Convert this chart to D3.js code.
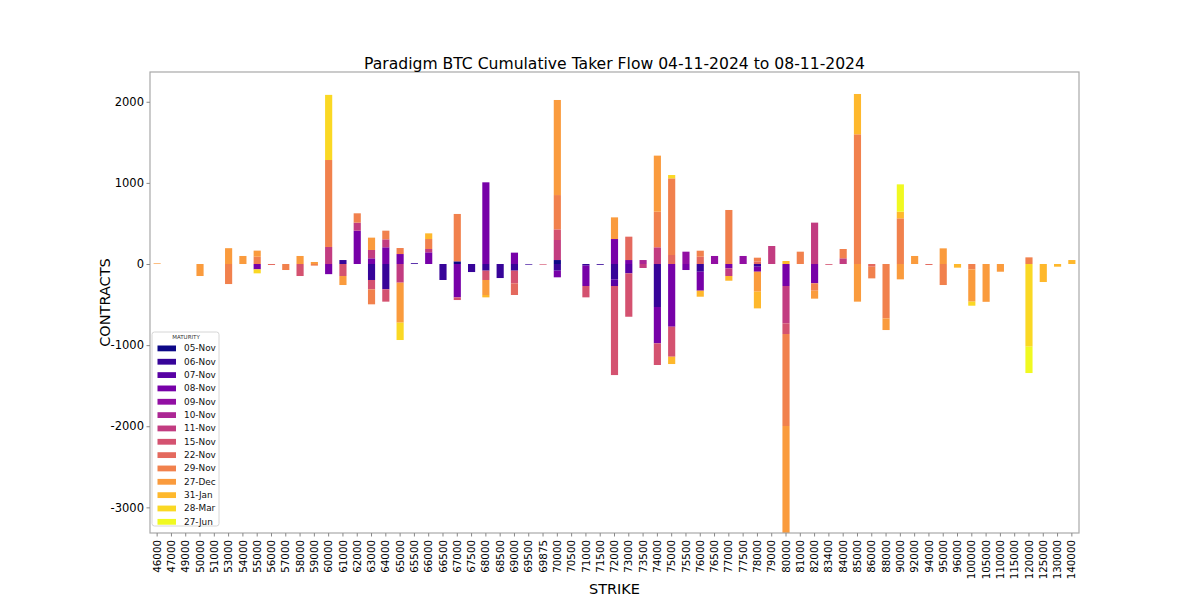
<!DOCTYPE html>
<html><head><meta charset="utf-8">
<script src="https://cdn.jsdelivr.net/npm/d3@7"></script>
<style>body{margin:0;background:#fff}svg{display:block}</style>
</head><body><svg id="c" width="1200" height="600"></svg>
<script>
const strikes = [46000,47000,49000,50000,51000,53000,54000,55000,56000,57000,58000,59000,60000,61000,62000,63000,64000,65000,65500,66000,66500,67000,67500,68000,68500,69000,69500,69875,70000,70500,71000,71500,72000,73000,73500,74000,75000,75500,76000,76500,77000,77500,78000,79000,80000,81000,82000,83400,84000,85000,86000,88000,90000,92000,94000,95000,96000,100000,105000,110000,115000,120000,125000,130000,140000];
const maturities = ["05-Nov","06-Nov","07-Nov","08-Nov","09-Nov","10-Nov","11-Nov","15-Nov","22-Nov","29-Nov","27-Dec","31-Jan","28-Mar","27-Jun"];
const yTicks = [-3000,-2000,-1000,0,1000,2000];

// [strike, contracts] per maturity
const flow05Nov = [[67000,33],[70000,49]];
const flow06Nov = [[61000,49],[63000,-197],[64000,-312],[65500,10],[66500,-197],[67500,-99],[68000,-82],[68500,-173],[69000,-82],[69500,-8],[70000,-82],[71000,-20],[71500,-10],[72000,-189],[74000,-530],[76000,-95],[78000,-33]];
const flow07Nov = [[72000,-82],[73000,-115]];
const flow08Nov = [[55000,-66],[60000,-125],[62000,411],[63000,70],[64000,206],[65000,123],[66000,144],[67000,-411],[68000,1007],[69000,140],[70000,-82],[71000,-251],[72000,308],[73000,49],[74000,-448],[75000,-773],[75500,-74],[76000,-234],[77000,-53],[78000,-62],[80000,-271],[82000,-238]];
const flow09Nov = [[75500,152],[76500,99],[77500,99]];
const flow10Nov = [[73500,49]];
const flow11Nov = [[60000,210],[62000,99],[63000,103],[64000,98],[65000,-230],[66000,41],[70000,247],[73500,-49],[74000,206],[77000,-95],[79000,222],[80000,-460],[82000,510],[84000,70]];
const flow15Nov = [[58000,-148],[61000,-148],[63000,-115],[64000,-152],[67000,-33],[68000,-115],[69000,-156],[69875,-8],[70000,131],[71000,-140],[72000,-1098],[73000,-535],[74000,-267],[75000,-370],[80000,-132],[83400,-10]];
const flow22Nov = [[56000,-12],[69000,-144],[73000,288],[75000,111],[76000,90],[78000,30],[86000,-33],[94000,-12]];
const flow29Nov = [[53000,-247],[55000,90],[57000,-74],[59000,-20],[60000,1072],[62000,115],[63000,-185],[64000,107],[65000,74],[66000,123],[67000,584],[70000,423],[74000,439],[75000,945],[76000,74],[77000,666],[78000,48],[80000,-1134],[81000,152],[82000,-91],[84000,115],[85000,1599],[86000,-144],[88000,-670],[90000,563],[95000,-259],[100000,-66],[120000,82]];
const flow27Dec = [[46000,8],[50000,-148],[53000,195],[54000,99],[55000,75],[58000,99],[59000,25],[61000,-111],[63000,152],[65000,-493],[68000,-185],[70000,1172],[72000,267],[74000,691],[78000,-246],[80000,-1323],[82000,-98],[85000,-464],[88000,-144],[90000,-189],[92000,99],[95000,193],[100000,-398],[105000,-466],[110000,-95]];
const flow31Jan = [[66000,70],[68000,-29],[75000,-90],[76000,-74],[77000,-58],[78000,-206],[80000,37],[85000,497],[90000,82],[96000,-45],[125000,-222],[130000,-33],[140000,49]];
const flow28Mar = [[55000,-49],[60000,803],[65000,-214],[75000,41],[100000,-50],[120000,-1019]];
const flow27Jun = [[90000,337],[120000,-325]];

const seriesFlows = [flow05Nov,flow06Nov,flow07Nov,flow08Nov,flow09Nov,flow10Nov,flow11Nov,flow15Nov,flow22Nov,flow29Nov,flow27Dec,flow31Jan,flow28Mar,flow27Jun];

const table = strikes.map(s => { const r = {strike: String(s)}; maturities.forEach(m => r[m] = 0); return r; });
seriesFlows.forEach((pairs, i) => pairs.forEach(([s, v]) => {
  const row = table.find(r => r.strike === String(s));
  if (row) row[maturities[i]] = v;
}));

const L = 150, R = 1079, T = 72, B = 533;
const svg = d3.select("#c");
const font = "DejaVu Sans, Verdana, sans-serif";

const x = d3.scaleBand().domain(strikes.map(String)).range([L, R]).paddingInner(0.5).paddingOuter(0.25);
const y = d3.scaleLinear().domain([-3316, 2367]).range([B, T]);
const color = d3.scaleOrdinal().domain(maturities).range(maturities.map((m, i) => d3.interpolatePlasma(i / (maturities.length - 1))));

const stacked = d3.stack().keys(maturities).offset(d3.stackOffsetDiverging)(table);

svg.append("clipPath").attr("id", "pc").append("rect").attr("x", L).attr("y", T).attr("width", R - L).attr("height", B - T);
const plot = svg.append("g").attr("clip-path", "url(#pc)");
plot.selectAll("g.layer").data(stacked).join("g").attr("class", "layer")
  .attr("fill", d => color(d.key))
  .selectAll("rect").data(d => d.filter(p => p[1] !== p[0])).join("rect")
  .attr("x", d => x(d.data.strike))
  .attr("width", x.bandwidth())
  .attr("y", d => y(Math.max(d[0], d[1])))
  .attr("height", d => Math.abs(y(d[0]) - y(d[1])));

// frame
svg.append("rect").attr("x", L).attr("y", T).attr("width", R - L).attr("height", B - T)
  .attr("fill", "none").attr("stroke", "#a8a8a8").attr("stroke-width", 1.2);

// axes
const xAxis = svg.append("g").attr("transform", `translate(0,${B})`)
  .call(d3.axisBottom(x).tickSize(3.5).tickPadding(3));
xAxis.select(".domain").remove();
xAxis.selectAll("line").attr("stroke", "#888");
xAxis.selectAll(".tick text").attr("font-family", font).attr("font-size", 10.3).attr("fill", "#000")
  .attr("transform", "rotate(-90)").attr("text-anchor", "end").attr("dy", "0.35em")
  .attr("x", -7).attr("y", 0);

const yAxis = svg.append("g").attr("transform", `translate(${L},0)`)
  .call(d3.axisLeft(y).tickValues(yTicks).tickSize(3.5).tickPadding(2.5).tickFormat(d => String(d)));
yAxis.select(".domain").remove();
yAxis.selectAll("line").attr("stroke", "#888");
yAxis.selectAll("text").attr("font-family", font).attr("font-size", 11.5).attr("fill", "#000");

// title & labels
svg.append("text").attr("x", (L + R) / 2).attr("y", 69).attr("text-anchor", "middle")
  .attr("font-family", font).attr("font-size", 15.6).text("Paradigm BTC Cumulative Taker Flow 04-11-2024 to 08-11-2024");
svg.append("text").attr("transform", `translate(110,${(T + B) / 2}) rotate(-90)`).attr("text-anchor", "middle")
  .attr("font-family", font).attr("font-size", 14.5).text("CONTRACTS");
svg.append("text").attr("x", (L + R) / 2).attr("y", 594).attr("text-anchor", "middle")
  .attr("font-family", font).attr("font-size", 14.5).text("STRIKE");

// legend
const lg = svg.append("g").attr("transform", "translate(152,332)");
lg.append("rect").attr("width", 67).attr("height", 194).attr("rx", 2.5)
  .attr("fill", "#fff").attr("fill-opacity", 0.85).attr("stroke", "#d6d6d6");
lg.append("text").attr("x", 34).attr("y", 7).attr("text-anchor", "middle")
  .attr("font-family", font).attr("font-size", 5.5).attr("fill", "#333").text("MATURITY");
maturities.forEach((m, i) => {
  const gy = 16.3 + i * 13.34;
  lg.append("rect").attr("x", 5.5).attr("y", gy - 2.8).attr("width", 18.5).attr("height", 5.8).attr("fill", color(m));
  lg.append("text").attr("x", 32).attr("y", gy).attr("dy", "0.35em")
    .attr("font-family", font).attr("font-size", 8.9).attr("fill", "#111").text(m);
});
</script>
</body></html>
